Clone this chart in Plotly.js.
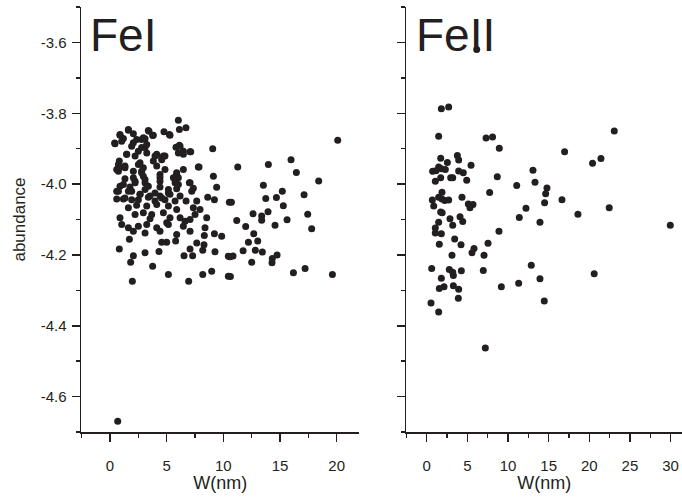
<!DOCTYPE html>
<html>
<head>
<meta charset="utf-8">
<script src="https://cdn.plot.ly/plotly-3.0.1.min.js"></script>
<style>html,body{margin:0;padding:0;background:#fff;}#chart{width:682px;height:497px;}</style>
</head>
<body>
<div id="chart"></div>
<script>
// FeI panel: equivalent width W (nm) and abundance
const feI_w = [
6.03,6.7,6.12,1.62,3.44,4.76,5.24,3.76,0.88,1.18,0.41,1.03,2.06,2.79,3.09,2.06,3.24,6.12,9.06,6.47,7.06,1.47,2.5,3.24,2.79,4.12,4.85,4.56,3.82,0.82,2.65,0.82,0.59,1.32,2.94,2.06,2.79,7.79,6.47,4.85,4.41,5.88,6.03,2.94,1.32,2.21,9.12,4.41,5.74,7.06,3.09,0.88,1.76,4.41,9.41,0.59,1.62,3.09,5.15,5.88,7.21,2.65,3.53,4.41,5.29,6.18,0.59,1.18,1.91,2.5,3.97,4.85,5.74,6.71,7.65,8.62,9.21,1.62,2.35,3.24,4.12,5.15,5.88,7.35,7.94,2.21,2.94,3.68,4.71,7.5,0.88,3.53,5.29,6.18,6.62,7.06,8.53,1.03,1.62,2.5,3.24,4.12,5.15,6.47,8.38,2.06,3.09,4.41,5.88,7.06,8.32,9.21,9.85,1.71,4.56,5.0,5.79,7.65,8.29,0.82,4.32,7.06,8.18,9.26,2.06,3.09,6.53,7.29,1.82,3.76,5.15,8.18,8.97,1.97,6.94,10.44,10.44,10.53,
1.62,3.38,0.88,2.35,2.94,3.82,0.44,1.91,3.09,1.47,2.21,3.97,4.56,0.74,2.5,4.12,1.32,2.79,0.74,2.06,3.09,4.41,1.18,2.21,3.38,0.74,1.91,2.65,3.97,1.32,3.38,4.56,
5.29,5.82,6.18,6.03,6.47,7.12,4.71,7.85,5.88,5.59,7.0,7.35,6.03,5.15,5.0,
20.09,15.97,13.97,11.27,16.44,18.41,13.53,15.2,17.12,13.74,14.68,10.71,15.29,13.94,12.62,13.38,13.38,17.44,11.18,15.62,11.97,14.56,17.79,12.68,13.03,12.21,11.74,12.82,13.44,14.74,10.59,10.85,14.32,14.29,12.5,17.21,16.18,19.62,10.62,
0.68
];
const feI_ab = [
-3.82,-3.841,-3.846,-3.848,-3.851,-3.852,-3.86,-3.863,-3.86,-3.871,-3.884,-3.879,-3.858,-3.874,-3.872,-3.883,-3.888,-3.89,-3.9,-3.907,-3.909,-3.916,-3.907,-3.912,-3.897,-3.916,-3.921,-3.931,-3.935,-3.935,-3.94,-3.954,-3.959,-3.949,-3.954,-3.964,-3.964,-3.952,-3.959,-3.959,-3.973,-3.968,-3.982,-3.978,-3.985,-3.992,-3.978,-3.992,-3.996,-3.996,-3.996,-4.006,-4.008,-4.008,-4.009,-4.02,-4.02,-4.015,-4.015,-4.013,-4.02,-4.029,-4.034,-4.034,-4.029,-4.034,-4.042,-4.042,-4.044,-4.044,-4.048,-4.044,-4.048,-4.048,-4.048,-4.037,-4.044,-4.067,-4.06,-4.062,-4.058,-4.062,-4.072,-4.067,-4.072,-4.086,-4.081,-4.086,-4.081,-4.086,-4.095,-4.098,-4.095,-4.095,-4.105,-4.1,-4.095,-4.114,-4.123,-4.119,-4.114,-4.123,-4.114,-4.119,-4.123,-4.133,-4.138,-4.133,-4.142,-4.133,-4.145,-4.14,-4.147,-4.156,-4.164,-4.164,-4.161,-4.166,-4.171,-4.183,-4.19,-4.183,-4.187,-4.191,-4.202,-4.194,-4.202,-4.202,-4.221,-4.232,-4.255,-4.255,-4.246,-4.274,-4.274,-4.26,-4.204,-4.051,
-3.846,-3.849,-3.862,-3.874,-3.869,-3.862,-3.886,-3.893,-3.897,-3.916,-3.921,-3.921,-3.926,-3.945,-3.945,-3.949,-3.954,-3.968,-3.964,-3.982,-3.987,-3.982,-4.001,-3.996,-4.006,-4.02,-4.02,-4.029,-4.025,-4.039,-4.037,-4.039,
-3.862,-3.896,-3.893,-3.912,-3.916,-3.909,-3.921,-3.952,-3.973,-3.982,-3.996,-4.012,-4.001,-4.025,-4.109,
-3.876,-3.931,-3.945,-3.952,-3.967,-3.991,-4.003,-4.02,-4.03,-4.041,-4.038,-4.051,-4.061,-4.078,-4.084,-4.09,-4.102,-4.085,-4.103,-4.101,-4.12,-4.116,-4.126,-4.14,-4.161,-4.164,-4.188,-4.187,-4.192,-4.2,-4.205,-4.203,-4.21,-4.222,-4.221,-4.238,-4.25,-4.255,-4.261,
-4.67
];
// FeII panel
const feII_w = [6.15,1.8,2.7,1.47,7.3,8.1,8.93,23.07,16.96,21.43,20.4,1.72,3.77,3.93,2.54,5.45,1.47,0.73,1.14,1.8,2.29,3.93,4.5,13.07,1.06,1.72,2.95,3.2,4.92,8.68,13.32,11.07,14.79,14.63,7.74,1.88,1.47,1.88,4.34,2.21,2.7,0.69,16.64,14.5,5.12,5.69,5.32,0.86,12.21,22.45,1.72,1.9,18.6,2.86,4.1,11.39,13.93,1.47,4.43,3.2,29.96,1.06,1.06,1.8,8.89,3.44,1.55,4.22,7.54,5.82,5.57,3.11,7.05,0.61,12.86,2.78,3.2,4.26,6.96,3.28,20.6,1.8,13.93,1.55,2.13,3.28,3.93,9.18,11.31,3.89,0.53,14.46,1.47,7.21];
const feII_ab = [-3.62,-3.787,-3.782,-3.865,-3.87,-3.867,-3.899,-3.85,-3.909,-3.928,-3.941,-3.927,-3.919,-3.932,-3.939,-3.947,-3.952,-3.964,-3.962,-3.957,-3.959,-3.963,-3.968,-3.961,-3.992,-3.982,-3.982,-3.982,-3.989,-3.979,-3.995,-4.004,-4.011,-4.027,-4.024,-4.023,-4.037,-4.042,-4.037,-4.046,-4.045,-4.045,-4.044,-4.053,-4.056,-4.058,-4.067,-4.062,-4.068,-4.067,-4.079,-4.081,-4.085,-4.098,-4.092,-4.094,-4.108,-4.108,-4.106,-4.116,-4.116,-4.124,-4.138,-4.14,-4.133,-4.155,-4.17,-4.171,-4.167,-4.182,-4.194,-4.201,-4.201,-4.238,-4.229,-4.241,-4.249,-4.245,-4.244,-4.258,-4.253,-4.266,-4.267,-4.295,-4.29,-4.287,-4.297,-4.29,-4.28,-4.322,-4.336,-4.33,-4.361,-4.463];

const yTickVals = [-4.6,-4.4,-4.2,-4.0,-3.8,-3.6];
const yTickText = ["-4.6","-4.4","-4.2","-4.0","-3.8","-3.6"];
const xTickVals1 = [0,5,10,15,20];
const xTickVals2 = [0,5,10,15,20,25,30];

const dotColor = '#231f20';
const marker = {color: dotColor, size: 7, line: {width: 0}};

const traces = [
  {x: feI_w, y: feI_ab, type: 'scatter', mode: 'markers', marker: marker, xaxis: 'x', yaxis: 'y', hoverinfo: 'none'},
  {x: feII_w, y: feII_ab, type: 'scatter', mode: 'markers', marker: marker, xaxis: 'x2', yaxis: 'y2', hoverinfo: 'none'}
];

const fnt = {family: 'Liberation Sans, Arial, Helvetica, sans-serif', color: '#231f20'};
function xax(domain, range, vals) {
  return {
    domain: domain, range: range, showgrid: false, zeroline: false,
    showline: true, linecolor: '#231f20', linewidth: 1.5,
    ticks: 'outside', ticklen: 8, tickwidth: 1.5, tickcolor: '#231f20',
    tickmode: 'array', tickvals: vals, ticktext: vals.map(String),
    tickfont: Object.assign({size: 15}, fnt), ticklabelstandoff: 11,
    minor: {dtick: 2.5, tick0: 0, ticks: 'outside', ticklen: 4, tickwidth: 1.5, tickcolor: '#231f20', showgrid: false},
    title: {text: 'W(nm)', font: Object.assign({size: 18}, fnt), standoff: 2},
    anchor: domain[0] === 0 ? 'y' : 'y2'
  };
}
function yax(labels, anchor) {
  return {
    domain: [0, 1], range: [-4.7, -3.5], showgrid: false, zeroline: false,
    showline: true, linecolor: '#231f20', linewidth: 1.5,
    ticks: 'outside', ticklen: 8, tickwidth: 1.5, tickcolor: '#231f20',
    tickmode: 'array', tickvals: yTickVals, ticktext: yTickText,
    showticklabels: labels,
    tickfont: Object.assign({size: 15}, fnt), ticklabelstandoff: 2,
    minor: {dtick: 0.1, tick0: -3.5, ticks: 'outside', ticklen: 4, tickwidth: 1.5, tickcolor: '#231f20', showgrid: false},
    anchor: anchor
  };
}

const layout = {
  width: 682, height: 497,
  margin: {l: 81, r: 0, t: 7, b: 65, pad: 0},
  paper_bgcolor: '#ffffff', plot_bgcolor: '#ffffff',
  showlegend: false,
  xaxis: xax([0, 0.4632], [-2.56, 22], xTickVals1),
  xaxis2: xax([0.5414, 1], [-2.5, 31.4], xTickVals2),
  yaxis: Object.assign(yax(true, 'x'), {title: {text: 'abundance', font: Object.assign({size: 17}, fnt), standoff: 10}}),
  yaxis2: yax(false, 'x2'),
  annotations: [
    {text: 'FeI', xref: 'paper', yref: 'paper', x: 0.0115, y: 0.935, xanchor: 'left', yanchor: 'middle', showarrow: false, font: Object.assign({size: 46}, fnt)},
    {text: 'FeII', xref: 'paper', yref: 'paper', x: 0.5535, y: 0.935, xanchor: 'left', yanchor: 'middle', showarrow: false, font: Object.assign({size: 46}, fnt)}
  ]
};

Plotly.newPlot('chart', traces, layout, {staticPlot: true, displayModeBar: false});
</script>
</body>
</html>
